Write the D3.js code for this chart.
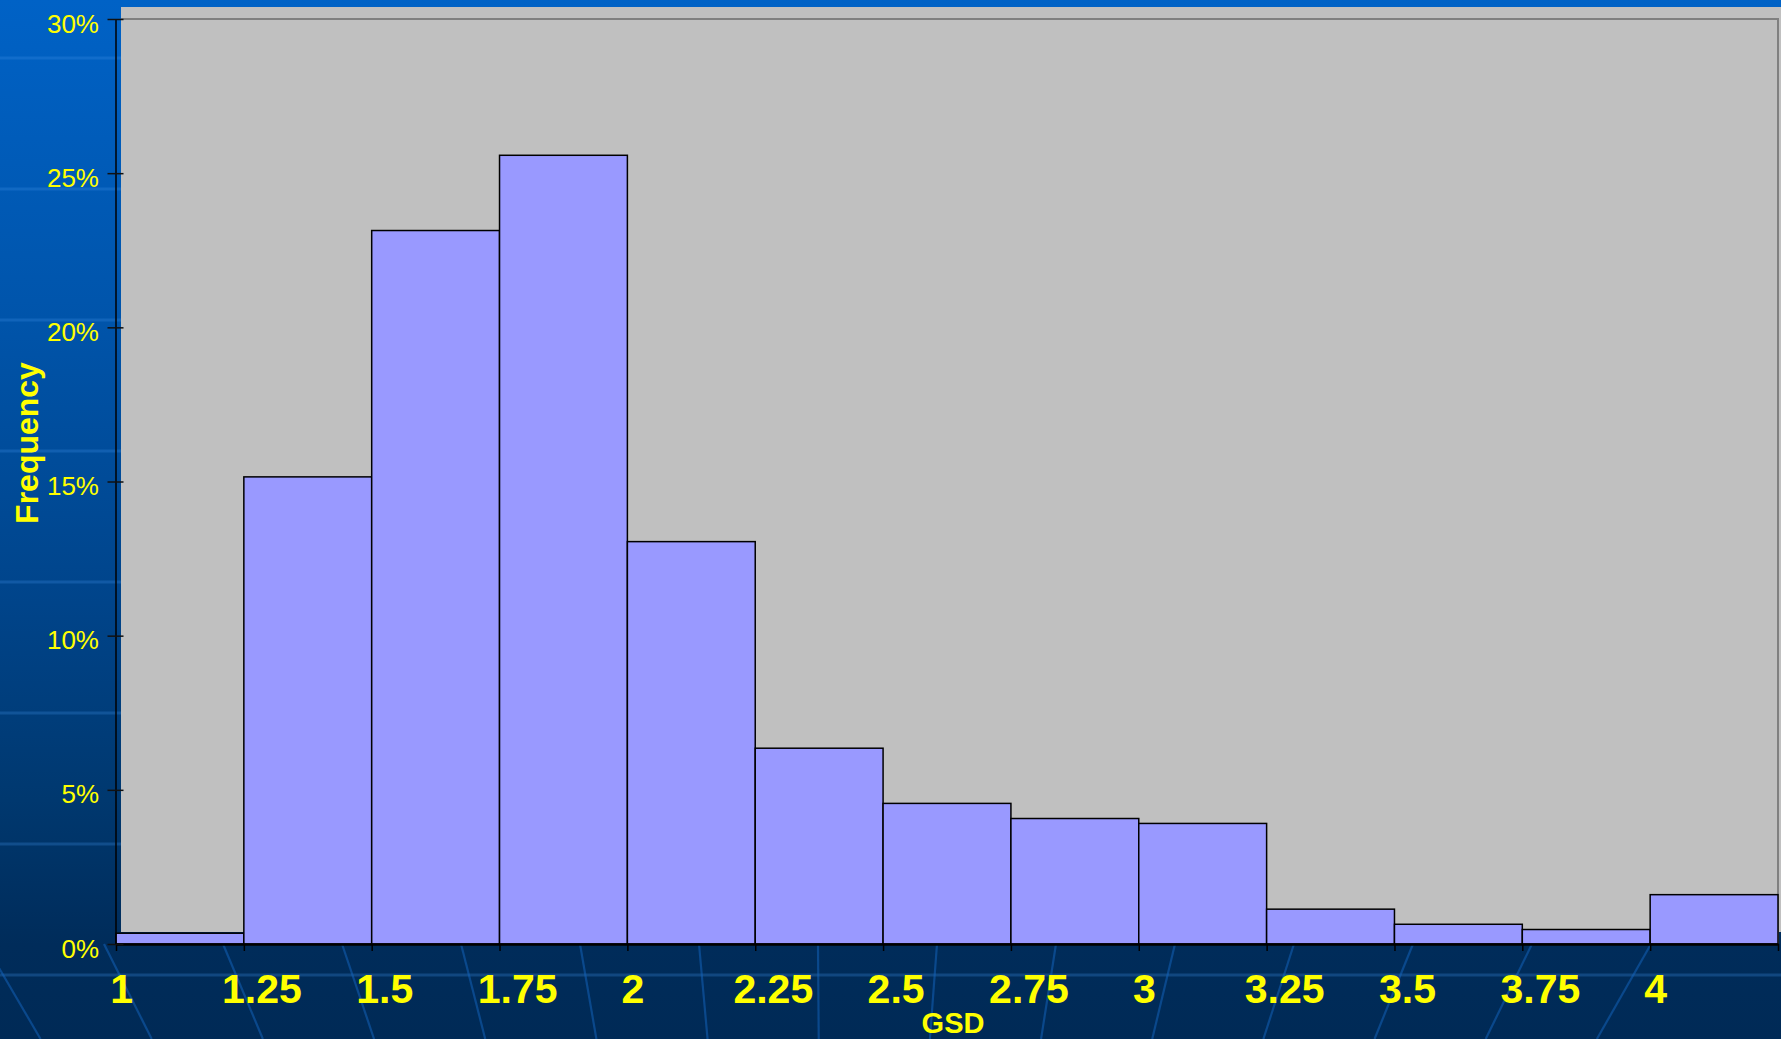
<!DOCTYPE html>
<html>
<head>
<meta charset="utf-8">
<script src="https://cdn.jsdelivr.net/npm/d3@7/dist/d3.min.js"></script>
<style>
  html, body { margin: 0; padding: 0; background: #002a56; overflow: hidden; }
  svg { display: block; }
  text { font-family: "Liberation Sans", Arial, Helvetica, sans-serif; }
</style>
</head>
<body>
<svg id="chart" width="1781" height="1039"></svg>
<script>
// GSD histogram: bin edges, share of samples per bin (%), and axis labels
const binEdges = [1, 1.25, 1.5, 1.75, 2, 2.25, 2.5, 2.75, 3, 3.25, 3.5, 3.75, 4, 4.25];
const frequency = [0.35, 15.15, 23.14, 25.58, 13.05, 6.35, 4.56, 4.07, 3.91, 1.13, 0.64, 0.47, 1.60];
const xTickLabels = ["1", "1.25", "1.5", "1.75", "2", "2.25", "2.5", "2.75", "3", "3.25", "3.5", "3.75", "4"];
const yTickValues = [0, 5, 10, 15, 20, 25, 30];
const xTitle = "GSD";
const yTitle = "Frequency";

(function () {
const W = 1781, H = 1039;
const svg = d3.select("#chart");

// ---- slide background ----
const defs = svg.append("defs");
const grad = defs.append("linearGradient")
  .attr("id", "bg").attr("x1", 0).attr("y1", 0).attr("x2", 0).attr("y2", 1);
[[0, "#0062c6"], [0.29, "#0055ac"], [0.58, "#00448a"], [0.77, "#00386f"],
 [0.91, "#002c5a"], [1, "#002a56"]].forEach(([o, c]) =>
  grad.append("stop").attr("offset", o).attr("stop-color", c));

svg.append("rect").attr("width", W).attr("height", H).attr("fill", "url(#bg)");

// faint horizontal banding of the slide design
const deco = svg.append("g");
d3.range(8).forEach(k => {
  deco.append("line")
    .attr("x1", 0).attr("x2", W)
    .attr("y1", 58 + 131 * k).attr("y2", 58 + 131 * k)
    .attr("stroke", "#3d8fe6").attr("stroke-opacity", 0.28).attr("stroke-width", 3);
});
// fan of slanted meridian lines along the bottom of the slide, converging below the page
const vp = [829, 2387];
d3.range(-2, 13).forEach(i => {
  const x0 = 223 + i * 119, y0 = 944, y1 = H;
  const t = (y1 - y0) / (vp[1] - y0);
  deco.append("line")
    .attr("x1", x0).attr("y1", y0)
    .attr("x2", x0 + (vp[0] - x0) * t).attr("y2", y1)
    .attr("stroke", "#1466c0").attr("stroke-opacity", 0.5).attr("stroke-width", 2.2);
});

// ---- plot ----
const plotLeft = 116, plotRight = 1778, plotTop = 19, plotBottom = 944;
const x = d3.scaleLinear().domain([binEdges[0], binEdges[binEdges.length - 1]]).range([plotLeft, plotRight]);
const y = d3.scaleLinear().domain([0, 30]).range([plotBottom, plotTop]);

// plot-area backdrop
svg.append("rect")
  .attr("x", 121).attr("y", 7).attr("width", W - 121).attr("height", 925)
  .attr("fill", "#c0c0c0");
svg.append("path")
  .attr("d", `M121,${plotTop}H${plotRight}V${plotBottom}`)
  .attr("fill", "none").attr("stroke", "#808080").attr("stroke-width", 2);

// bars
const bins = frequency.map((v, i) => ({ x0: binEdges[i], x1: binEdges[i + 1], v }));
svg.append("g").selectAll("rect").data(bins).join("rect")
  .attr("x", d => x(d.x0))
  .attr("y", d => y(d.v))
  .attr("width", d => x(d.x1) - x(d.x0))
  .attr("height", d => y(0) - y(d.v))
  .attr("fill", "#9999ff")
  .attr("stroke", "#000").attr("stroke-width", 1.5);

// x axis
const xAxis = svg.append("g")
  .attr("transform", `translate(0,${plotBottom})`)
  .call(d3.axisBottom(x)
    .tickValues(binEdges)
    .tickFormat((d, i) => xTickLabels[i] || "")
    .tickSizeInner(7).tickSizeOuter(0));
xAxis.select(".domain").attr("stroke", "#000").attr("stroke-width", 2.5);
xAxis.selectAll(".tick line").attr("stroke", "#000").attr("stroke-width", 1.5);
xAxis.selectAll(".tick text")
  .attr("fill", "#ffff00")
  .attr("font-size", 41).attr("font-weight", "bold")
  .attr("font-family", "Liberation Sans, Arial, sans-serif")
  .attr("text-anchor", "start")
  .attr("dy", null)
  .attr("y", 1003 - plotBottom)
  .attr("x", function () { return -this.getComputedTextLength() * 0.28; });

// y axis
const yAxis = svg.append("g")
  .attr("transform", `translate(${plotLeft - 0.5},0)`)
  .call(d3.axisLeft(y)
    .tickValues(yTickValues)
    .tickFormat(d => d + "%")
    .tickSizeInner(8).tickSizeOuter(0));
yAxis.select(".domain").attr("stroke", "#000").attr("stroke-width", 1.5);
yAxis.selectAll(".tick line").attr("x1", -8).attr("x2", 8)
  .attr("stroke", "#111").attr("stroke-width", 1.5);
yAxis.selectAll(".tick text")
  .attr("fill", "#ffff00")
  .attr("font-size", 26)
  .attr("font-family", "Liberation Sans, Arial, sans-serif")
  .attr("text-anchor", "end")
  .attr("x", -16.5)
  .attr("dy", null)
  .attr("y", 13);

// axis titles
svg.append("text")
  .attr("x", 953).attr("y", 1033)
  .attr("text-anchor", "middle")
  .attr("fill", "#ffff00").attr("font-weight", "bold").attr("font-size", 29)
  .text(xTitle);
svg.append("text")
  .attr("transform", "translate(38,443) rotate(-90)")
  .attr("text-anchor", "middle")
  .attr("fill", "#ffff00").attr("font-weight", "bold").attr("font-size", 32)
  .text(yTitle);
})();
</script>
</body>
</html>
